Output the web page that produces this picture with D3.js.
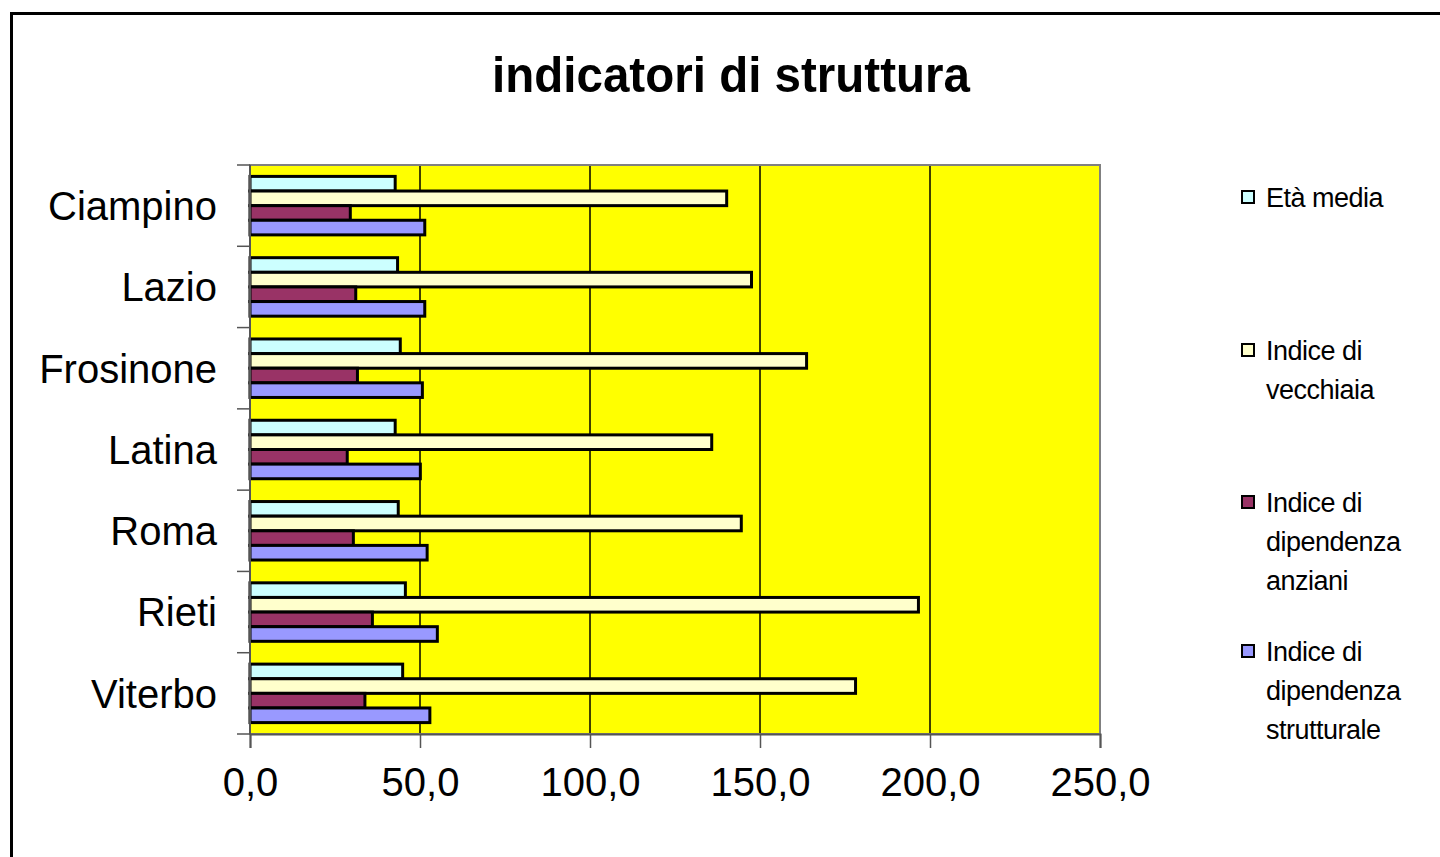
<!DOCTYPE html>
<html>
<head>
<meta charset="utf-8">
<script src="https://cdn.jsdelivr.net/npm/d3@7"></script>
<style>
  body { margin: 0; background: #fff; }
  text { font-family: "Liberation Sans", Arial, sans-serif; }
</style>
</head>
<body>
<svg id="vis" width="1440" height="857"></svg>
<script>
const svg = d3.select('#vis');
const width = +svg.attr('width');
const height = +svg.attr('height');

// Data
const categories = ['Ciampino', 'Lazio', 'Frosinone', 'Latina', 'Roma', 'Rieti', 'Viterbo'];
const seriesNames = ['Età media', 'Indice di vecchiaia', 'Indice di dipendenza anziani', 'Indice di dipendenza strutturale'];
const etaMedia = [42.7, 43.4, 44.2, 42.7, 43.6, 45.7, 44.9];
const indiceVecchiaia = [140.2, 147.5, 163.7, 135.8, 144.5, 196.6, 178.1];
const dipAnziani = [29.5, 31.1, 31.6, 28.6, 30.4, 36.0, 33.8];
const dipStrutturale = [51.4, 51.4, 50.7, 50.1, 52.1, 55.1, 52.9];
const xTicks = [0, 50, 100, 150, 200, 250];
const legendLines = [['Età media'], ['Indice di', 'vecchiaia'], ['Indice di', 'dipendenza', 'anziani'], ['Indice di', 'dipendenza', 'strutturale']];

const seriesValues = [etaMedia, indiceVecchiaia, dipAnziani, dipStrutturale];
const colors = ['#CCFFFF', '#FFFFCC', '#993366', '#9999FF'];

const margin = { top: 165, left: 250, right: 340, bottom: 123 };
const plotWidth = width - margin.left - margin.right;
const plotHeight = height - margin.top - margin.bottom;

// outer frame
svg.append('rect')
  .attr('x', 11.5).attr('y', 13.5)
  .attr('width', 1500).attr('height', 1000)
  .attr('fill', 'none')
  .attr('stroke', '#000')
  .attr('stroke-width', 3);

// title
svg.append('text')
  .attr('x', 731)
  .attr('y', 92)
  .attr('text-anchor', 'middle')
  .attr('textLength', 478)
  .attr('lengthAdjust', 'spacingAndGlyphs')
  .style('font-size', '50px')
  .style('font-weight', 'bold')
  .text('indicatori di struttura');

const x = d3.scaleLinear()
  .domain([0, 250])
  .range([margin.left, margin.left + plotWidth]);

const y0 = d3.scaleBand()
  .domain(categories)
  .range([margin.top, margin.top + plotHeight]);

const y1 = d3.scaleBand()
  .domain(d3.range(seriesNames.length))
  .range([0, y0.bandwidth()])
  .paddingOuter(0.78);

// plot background
svg.append('rect')
  .attr('x', margin.left).attr('y', margin.top)
  .attr('width', plotWidth).attr('height', plotHeight)
  .attr('fill', '#FFFF00');

// gridlines
svg.append('g')
  .selectAll('line')
  .data(xTicks.slice(1, -1))
  .enter()
  .append('line')
  .attr('x1', d => x(d)).attr('x2', d => x(d))
  .attr('y1', margin.top).attr('y2', margin.top + plotHeight)
  .attr('stroke', '#000')
  .attr('stroke-width', 1.5);

// bars
const groups = svg.append('g')
  .selectAll('g')
  .data(categories)
  .enter()
  .append('g')
  .attr('transform', d => `translate(0,${y0(d)})`);

groups.selectAll('rect')
  .data((c, i) => seriesValues.map((vals, s) => ({ s: s, v: vals[i] })))
  .enter()
  .append('rect')
  .attr('x', x(0))
  .attr('y', d => y1(d.s))
  .attr('width', d => x(d.v) - x(0))
  .attr('height', y1.bandwidth())
  .attr('fill', d => colors[d.s])
  .attr('stroke', '#000')
  .attr('stroke-width', 3);

// plot border
svg.append('rect')
  .attr('x', margin.left).attr('y', margin.top)
  .attr('width', plotWidth).attr('height', plotHeight)
  .attr('fill', 'none')
  .attr('stroke', '#808080')
  .attr('stroke-width', 2);

// y axis with ticks at band boundaries
const yAxis = svg.append('g');
yAxis.append('line')
  .attr('x1', margin.left).attr('x2', margin.left)
  .attr('y1', margin.top).attr('y2', margin.top + plotHeight)
  .attr('stroke', '#555').attr('stroke-width', 2);
yAxis.selectAll('line.tick')
  .data(categories.concat(['end']))
  .enter()
  .append('line')
  .attr('class', 'tick')
  .attr('x1', margin.left - 13).attr('x2', margin.left)
  .attr('y1', (d, i) => margin.top + i * y0.step())
  .attr('y2', (d, i) => margin.top + i * y0.step())
  .attr('stroke', '#555').attr('stroke-width', 1.5);
yAxis.selectAll('text')
  .data(categories)
  .enter()
  .append('text')
  .attr('x', 217)
  .attr('y', d => y0(d) + y0.bandwidth() / 2)
  .attr('dy', '0.36em')
  .attr('text-anchor', 'end')
  .style('font-size', '40px')
  .text(d => d);

// x axis
const xAxis = svg.append('g')
  .attr('transform', `translate(0,${margin.top + plotHeight})`)
  .call(d3.axisBottom(x).tickValues(xTicks).tickSize(14).tickPadding(20)
    .tickFormat(d => d3.format('.1f')(d).replace('.', ',')));
xAxis.select('.domain').attr('stroke', '#555').attr('stroke-width', 2);
xAxis.selectAll('.tick line').attr('stroke', '#555').attr('stroke-width', 1.5);
xAxis.selectAll('.tick text')
  .style('font-size', '40px')
  .style('font-family', '"Liberation Sans", Arial, sans-serif')
  .attr('fill', '#000');

// legend
const legendY = [197, 350, 502, 651];
const legend = svg.append('g');
seriesNames.forEach((name, i) => {
  legend.append('rect')
    .attr('x', 1242)
    .attr('y', legendY[i] - 6)
    .attr('width', 12)
    .attr('height', 12)
    .attr('fill', colors[i])
    .attr('stroke', '#000')
    .attr('stroke-width', 2);
  legendLines[i].forEach((line, j) => {
    legend.append('text')
      .attr('x', 1266)
      .attr('y', legendY[i] + j * 39)
      .attr('dy', '0.36em')
      .style('font-family', '"Liberation Sans Narrow", "Arial Narrow", sans-serif')
      .style('font-size', '27px')
      .style('letter-spacing', '-0.5px')
      .text(line);
  });
});
</script>
</body>
</html>
